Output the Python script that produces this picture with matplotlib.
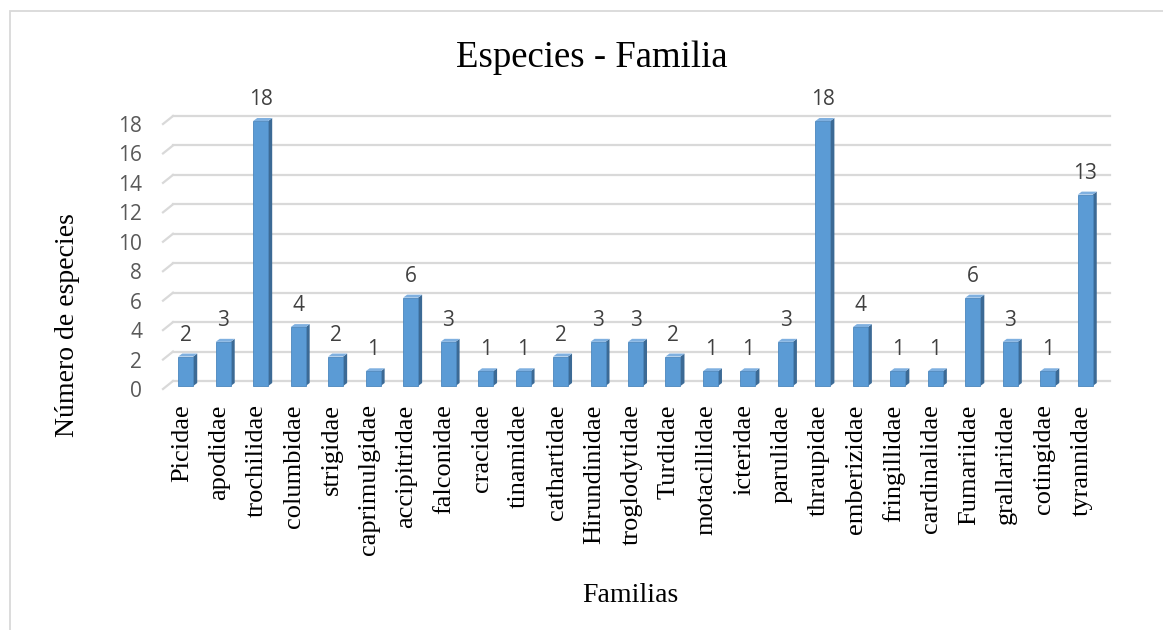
import matplotlib
matplotlib.use("Agg")
import matplotlib.pyplot as plt
from matplotlib.patches import Polygon, Rectangle

familias = ["Picidae", "apodidae", "trochilidae", "columbidae", "strigidae",
            "caprimulgidae", "accipitridae", "falconidae", "cracidae", "tinamidae",
            "cathartidae", "Hirundinidae", "troglodytidae", "Turdidae", "motacillidae",
            "icteridae", "parulidae", "thraupidae", "emberizidae", "fringillidae",
            "cardinalidae", "Fumariidae", "grallariidae", "cotingidae", "tyrannidae"]
especies = [2, 3, 18, 4, 2, 1, 6, 3, 1, 1, 2, 3, 3, 2, 1, 1, 3, 18, 4, 1, 1, 6, 3, 1, 13]
yticks = list(range(0, 20, 2))

W, H = 1163, 630
fig = plt.figure(figsize=(W / 100, H / 100), dpi=100)

# chart frame (light grey border, cut at right/bottom like the screenshot)
fig.patches.append(Rectangle((10 / W, -0.01), 1.2, 1 - 11 / H + 0.01,
                             transform=fig.transFigure, fill=False,
                             edgecolor="#d9d9d9", lw=1.3))

# plot area = front plane of the 3D floor
left_px, right_px, top_px, bot_px = 163, 1100, 124, 389
ax = fig.add_axes([left_px / W, 1 - bot_px / H,
                   (right_px - left_px) / W, (bot_px - top_px) / H])
n = len(familias)
ax.set_xlim(-0.5, n - 0.5)
ax.set_ylim(0, 18)
for s in ax.spines.values():
    s.set_visible(False)

# pixel -> data units
px_x = n / (right_px - left_px)
px_y = 18 / (bot_px - top_px)
depth = (10, 8)      # back wall offset in px
bar_off = (4, 3)     # bar front face offset
side = (4, 3)        # bar depth

grid_c = "#d9d9d9"
for y in yticks:
    bx, by = depth[0] * px_x, depth[1] * px_y
    ax.plot([-0.5, -0.5 + bx], [y, y + by], color=grid_c, lw=1.6,
            clip_on=False, zorder=1)
    ax.plot([-0.5 + bx, n - 0.5 + bx], [y + by, y + by], color=grid_c, lw=1.6,
            clip_on=False, zorder=1)

bw = 0.4
ox, oy = bar_off[0] * px_x, bar_off[1] * px_y
sx, sy = side[0] * px_x, side[1] * px_y
for i, v in enumerate(especies):
    x0 = i - bw / 2 + ox
    x1 = i + bw / 2 + ox
    y0, y1 = oy, v + oy
    ax.add_patch(Polygon([(x1, y0), (x1 + sx, y0 + sy), (x1 + sx, y1 + sy), (x1, y1)],
                         closed=True, facecolor="#3c6a95", edgecolor="none",
                         clip_on=False, zorder=3))
    ax.add_patch(Polygon([(x0, y1), (x1, y1), (x1 + sx, y1 + sy), (x0 + sx, y1 + sy)],
                         closed=True, facecolor="#7fb0e0", edgecolor="none",
                         clip_on=False, zorder=3))
    ax.add_patch(Rectangle((x0, y0), bw, v, facecolor="#5b9bd5",
                           edgecolor="#4a86bd", lw=0.6, clip_on=False, zorder=4))
    ax.annotate(str(v), (i, v), xytext=(3, 13.7), textcoords="offset points",
                ha="center", va="baseline", fontsize=15, color="#404040",
                family="Open Sans", annotation_clip=False)

ax.set_yticks(yticks)
ax.set_yticklabels([str(t) for t in yticks], family="Open Sans",
                   fontsize=15, color="#595959")
ax.tick_params(axis="y", length=0, pad=15)
ax.set_xticks(range(n))
ax.set_xticklabels(familias, rotation=90, family="Liberation Serif",
                   fontsize=19, color="#000000")
ax.tick_params(axis="x", length=0, pad=11)
ax.patch.set_alpha(0)

fig.text(591.5 / W, 1 - 67 / H, "Especies - Familia", ha="center", va="baseline",
         family="Liberation Serif", fontsize=26.5, color="#000000")
fig.text(67 / W, 1 - 325 / H, "Número de especies", ha="center", va="center",
         rotation=90, family="Liberation Serif", fontsize=20, color="#000000")
fig.text(630 / W, 1 - 602 / H, "Familias", ha="center", va="baseline",
         family="Liberation Serif", fontsize=20, color="#000000")

fig.savefig("out.png", dpi=100, facecolor="white")
